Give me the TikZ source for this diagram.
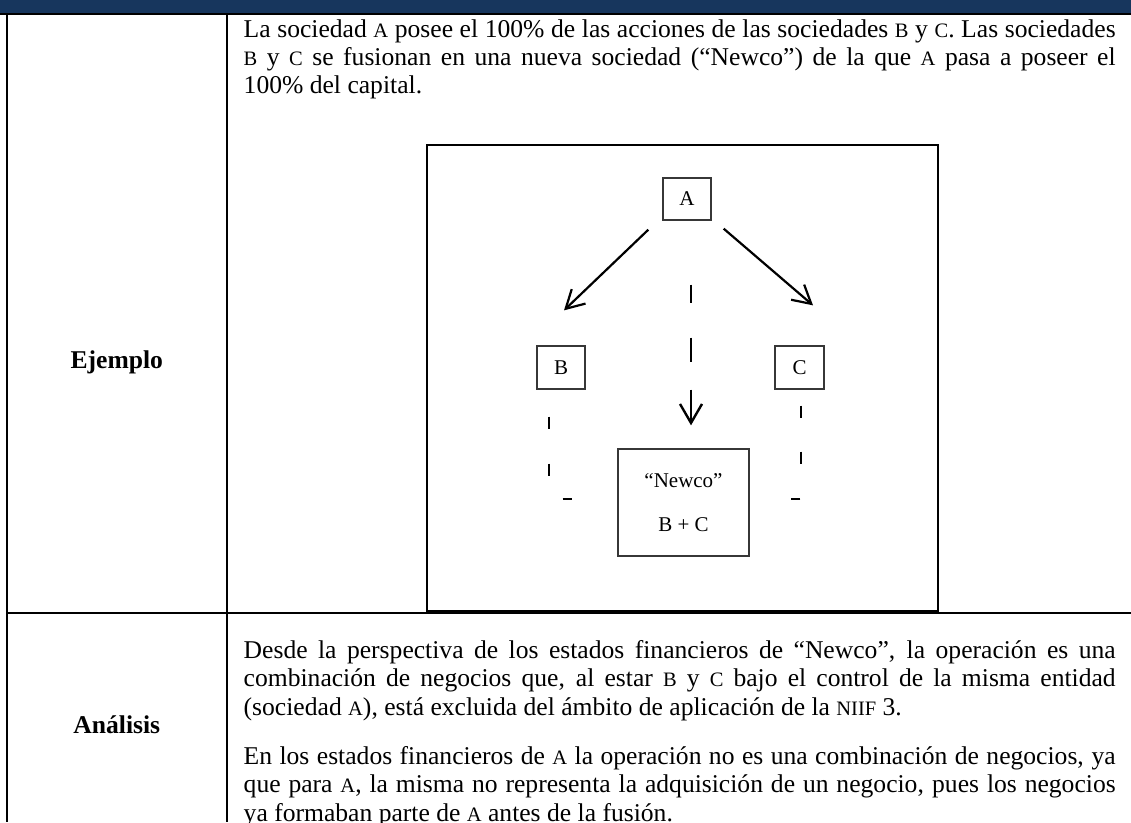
\documentclass[tikz,border=0pt]{standalone}
\usepackage{fontspec}
\setmainfont{Liberation Serif}
\usetikzlibrary{arrows.meta}
\definecolor{hdrnavy}{RGB}{23,54,93}
\definecolor{boxgray}{RGB}{55,55,55}
\newcommand\smc[1]{{\fontsize{20.5}{20.5}\selectfont #1}}
\newcommand\jline[1]{\makebox[872pt][s]{#1}}
\tikzset{
  gridline/.style={line width=2.1pt, black},
  bodytext/.style={font=\fontsize{25.6}{28.3}\selectfont, inner sep=0pt, anchor=base west},
  celllabel/.style={font=\fontsize{25.6}{28.3}\selectfont\bfseries, inner sep=0pt, anchor=base},
  entity/.style={draw=boxgray, line width=1.3pt, inner sep=0pt, align=center,
                 font=\fontsize{21}{44}\selectfont},
  ownarrow/.style={line width=2.2pt, -{Straight Barb[length=18pt,width=20pt]}},
  mergearrow/.style={line width=2.4pt, dash pattern=on 18pt off 35pt on 24pt off 28pt on 80pt,
                     -{Straight Barb[length=19pt,width=22pt]}},
  mergeline/.style={line width=2.4pt}
}
\begin{document}
\begin{tikzpicture}[x=1pt,y=-1pt]
\useasboundingbox (0,0) rectangle (1131,822);
% header band
\fill[hdrnavy] (0,0) rectangle (1131,13.4);
\draw[gridline] (0,14.3) -- (1131,14.3);
% table grid
\draw[gridline] (7,14.3) -- (7,822);
\draw[gridline] (226.7,14.3) -- (226.7,822);
\draw[gridline] (7,612.8) -- (1131,612.8);
% row labels
\node[celllabel] (ej) at (116.8,368) {Ejemplo};
\node[celllabel] (an) at (116.8,733) {Análisis};
% top paragraph
\node[bodytext] (t1) at (243.5,37) {\jline{La sociedad \smc{A} posee el 100\% de las acciones de las sociedades \smc{B} y \smc{C}. Las sociedades}};
\node[bodytext] (t2) at (243.5,65.3) {\jline{\smc{B} y \smc{C} se fusionan en una nueva sociedad (“Newco”) de la que \smc{A} pasa a poseer el}};
\node[bodytext] (t3) at (243.5,93.6) {100\% del capital.};
% diagram frame
\draw[line width=2pt] (427.3,145) rectangle (937.7,610.5);
% entities
\node[entity, minimum width=48pt, minimum height=42pt] (A) at (687,199) {A};
\node[entity, minimum width=48pt, minimum height=43pt] (B) at (561,367.5) {B};
\node[entity, minimum width=49pt, minimum height=43pt] (C) at (799.5,367.5) {C};
\node[entity, minimum width=131pt, minimum height=107pt] (N) at (683.5,502.5) {“Newco”\\B + C};
% ownership arrows
\draw[ownarrow] ([shift={(-14pt,-9pt)}]A.south west) -- ([shift={(3pt,35pt)}]B.north);
\draw[ownarrow] ([shift={(12pt,-8pt)}]A.south east) -- ([shift={(13.5pt,40pt)}]C.north);
% merger
\coordinate (m1) at ([shift={(4pt,-64pt)}]A.south);
\coordinate (m2) at ([shift={(7.5pt,23pt)}]N.north);
\draw[mergearrow] (m1) -- (m2);
\draw[mergeline, dash pattern=on 12pt off 35pt on 12pt off 37pt on 9pt off 60pt, dash phase=138pt]
  ([xshift=-12pt]B.south) |- ([yshift=3.5pt]N.west);
\draw[mergeline, dash pattern=on 12pt off 34pt on 12pt off 36pt on 9pt off 60pt, dash phase=147pt]
  ([xshift=1.5pt]C.south) |- ([yshift=3.5pt]N.east);
% bottom paragraphs
\node[bodytext] (d1) at (243.5,658.5) {\jline{Desde la perspectiva de los estados financieros de “Newco”, la operación es una}};
\node[bodytext] (d2) at (243.5,686.8) {\jline{combinación de negocios que, al estar \smc{B} y \smc{C} bajo el control de la misma entidad}};
\node[bodytext] (d3) at (243.5,715.1) {(sociedad \smc{A}), está excluida del ámbito de aplicación de la \smc{NIIF} 3.};
\node[bodytext] (d4) at (243.5,764.5) {\jline{En los estados financieros de \smc{A} la operación no es una combinación de negocios, ya}};
\node[bodytext] (d5) at (243.5,792.8) {\jline{que para \smc{A}, la misma no representa la adquisición de un negocio, pues los negocios}};
\node[bodytext] (d6) at (243.5,821.1) {ya formaban parte de \smc{A} antes de la fusión.};
\end{tikzpicture}
\end{document}
